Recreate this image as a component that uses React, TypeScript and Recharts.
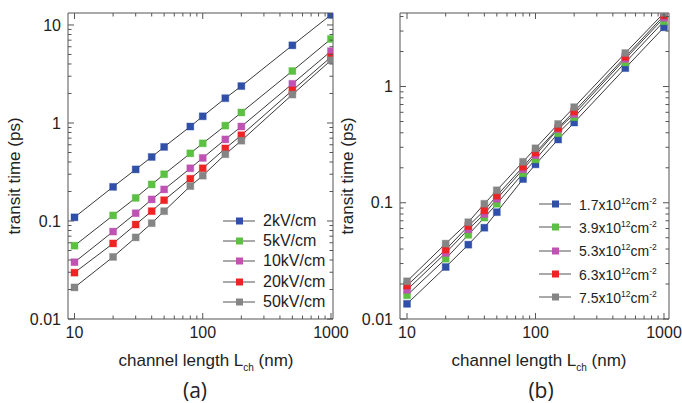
import { LineChart, Line, XAxis, YAxis } from "recharts";

// channel length (nm), shared by both panels
const lengths = [10, 20, 30, 40, 50, 80, 100, 150, 200, 500, 1000];

// panel (a): transit time (ps) for each field
const fieldNames = ["2kV/cm", "5kV/cm", "10kV/cm", "20kV/cm", "50kV/cm"];
const t2kV = [0.109, 0.223, 0.336, 0.45, 0.57, 0.92, 1.17, 1.79, 2.38, 6.2, 12.7];
const t5kV = [0.056, 0.114, 0.172, 0.236, 0.3, 0.49, 0.62, 0.94, 1.28, 3.39, 7.2];
const t10kV = [0.038, 0.078, 0.12, 0.166, 0.21, 0.345, 0.44, 0.68, 0.92, 2.51, 5.4];
const t20kV = [0.0297, 0.059, 0.092, 0.126, 0.163, 0.27, 0.345, 0.55, 0.75, 2.15, 4.7];
const t50kV = [0.021, 0.043, 0.068, 0.095, 0.126, 0.227, 0.29, 0.48, 0.66, 1.95, 4.36];

// panel (b): transit time (ps) for each carrier density
const densityNames = ["1.7", "3.9", "5.3", "6.3", "7.5"];
const n17 = [0.0135, 0.028, 0.0436, 0.061, 0.083, 0.16, 0.214, 0.35, 0.49, 1.44, 3.23];
const n39 = [0.016, 0.033, 0.053, 0.0745, 0.098, 0.179, 0.236, 0.396, 0.544, 1.61, 3.64];
const n53 = [0.0178, 0.037, 0.059, 0.08, 0.108, 0.194, 0.257, 0.43, 0.58, 1.73, 3.9];
const n63 = [0.0194, 0.0395, 0.063, 0.086, 0.115, 0.204, 0.27, 0.44, 0.61, 1.8, 4.08];
const n75 = [0.0211, 0.0445, 0.068, 0.098, 0.128, 0.225, 0.294, 0.476, 0.664, 1.94, 4.3];

const colors = ["#2f4fa8", "#5cc043", "#bf52b3", "#ee2324", "#858585"];

const FONT = "Arial, 'Liberation Sans', Helvetica, sans-serif";

const toPoints = (vals: number[]) => lengths.map((x, i) => ({ x, y: vals[i] }));

const seriesA = [t2kV, t5kV, t10kV, t20kV, t50kV].map((v, i) => ({
  name: fieldNames[i],
  color: colors[i],
  data: toPoints(v),
}));
const seriesB = [n17, n39, n53, n63, n75].map((v, i) => ({
  name: densityNames[i],
  color: colors[i],
  data: toPoints(v),
}));

// log ticks: decades labelled, 2..9 minor
function logTicks(from: number, to: number, max: number) {
  const out: number[] = [];
  for (let d = from; d < to; d *= 10) {
    for (let k = 1; k <= 9; k++) {
      const v = Number((d * k).toPrecision(3));
      if (v <= max) out.push(v);
    }
  }
  if (to <= max) out.push(to);
  return out;
}

const isDecade = (v: number) => {
  const l = Math.log10(v);
  return Math.abs(l - Math.round(l)) < 1e-6;
};

function LogTick(props: any) {
  const { x, y, payload, side, labeled } = props;
  const v = payload.value;
  const major = isDecade(v);
  const len = major ? 6 : 3.5;
  let line;
  let label = null;
  if (side === "bottom") {
    line = <line x1={x} y1={y} x2={x} y2={y - len} stroke="#555" />;
    if (labeled && major)
      label = (
        <text x={x} y={y + 19} textAnchor="middle" fontSize={16} fill="#222" fontFamily={FONT}>
          {String(v)}
        </text>
      );
  } else if (side === "top") {
    line = <line x1={x} y1={y} x2={x} y2={y + len} stroke="#555" />;
  } else if (side === "left") {
    line = <line x1={x} y1={y} x2={x + len} y2={y} stroke="#555" />;
    if (labeled && major)
      label = (
        <text x={x - 7} y={y + 5.7} textAnchor="end" fontSize={16} fill="#222" fontFamily={FONT}>
          {String(v)}
        </text>
      );
  } else {
    line = <line x1={x} y1={y} x2={x - len} y2={y} stroke="#555" />;
  }
  return (
    <g>
      {line}
      {label}
    </g>
  );
}

const square = (color: string) => (p: any) => (
  <rect
    key={`sq-${p.index}`}
    x={p.cx - 3.5}
    y={p.cy - 3.5}
    width={7}
    height={7}
    fill={color}
    stroke={color}
    strokeOpacity={0.35}
    strokeWidth={1}
  />
);

interface PanelProps {
  width: number;
  margin: { top: number; right: number; bottom: number; left: number };
  xDomain: [number, number];
  yDomain: [number, number];
  yTicks: number[];
  series: { name: string; color: string; data: { x: number; y: number }[] }[];
}

const xTicks = logTicks(10, 1000, 1000);

function Panel({ width, margin, xDomain, yDomain, yTicks, series }: PanelProps) {
  return (
    <LineChart width={width} height={403} margin={margin} style={{ overflow: "visible" }}>
      <XAxis
        xAxisId="b"
        dataKey="x"
        type="number"
        scale="log"
        domain={xDomain}
        allowDataOverflow
        ticks={xTicks}
        interval={0}
        height={1}
        tickSize={0}
        tickMargin={0}
        tickLine={false}
        axisLine={{ stroke: "#555" }}
        tick={<LogTick side="bottom" labeled />}
      />
      <XAxis
        xAxisId="t"
        orientation="top"
        dataKey="x"
        type="number"
        scale="log"
        domain={xDomain}
        allowDataOverflow
        ticks={xTicks}
        interval={0}
        height={1}
        tickSize={0}
        tickMargin={0}
        tickLine={false}
        axisLine={{ stroke: "#555" }}
        tick={<LogTick side="top" />}
      />
      <YAxis
        yAxisId="l"
        type="number"
        scale="log"
        domain={yDomain}
        allowDataOverflow
        ticks={yTicks}
        interval={0}
        width={1}
        tickSize={0}
        tickMargin={0}
        tickLine={false}
        axisLine={{ stroke: "#555" }}
        tick={<LogTick side="left" labeled />}
      />
      <YAxis
        yAxisId="r"
        orientation="right"
        type="number"
        scale="log"
        domain={yDomain}
        allowDataOverflow
        ticks={yTicks}
        interval={0}
        width={1}
        tickSize={0}
        tickMargin={0}
        tickLine={false}
        axisLine={{ stroke: "#555" }}
        tick={<LogTick side="right" />}
      />
      {series.map((s) => (
        <Line
          key={s.name}
          xAxisId="b"
          yAxisId="l"
          data={s.data}
          dataKey="y"
          type="linear"
          stroke="#3a3a3a"
          strokeWidth={1}
          dot={square(s.color)}
          activeDot={false}
          isAnimationActive={false}
        />
      ))}
    </LineChart>
  );
}

function LegendRow({ color, top, left, children }: any) {
  return (
    <div style={{ position: "absolute", left, top: top - 10, height: 20, display: "flex", alignItems: "center" }}>
      <svg width={34} height={20} style={{ display: "block" }}>
        <line x1={0} y1={10} x2={32} y2={10} stroke="#555" />
        <rect x={13} y={6.5} width={7} height={7} fill={color} />
      </svg>
      <span style={{ marginLeft: 6, whiteSpace: "nowrap", color: "#222" }}>{children}</span>
    </div>
  );
}

const absText = (left: number, top: number, extra: any = {}) => ({
  position: "absolute" as const,
  left,
  top,
  transform: "translate(-50%, -50%)",
  whiteSpace: "nowrap" as const,
  color: "#222",
  ...extra,
});

export default function App() {
  return (
    <div
      style={{
        position: "absolute",
        left: 0,
        top: 0,
        width: 682,
        height: 403,
        background: "#fff",
        fontFamily: FONT,
        overflow: "hidden",
      }}
    >
      <div style={{ position: "absolute", left: 0, top: 0 }}>
        <Panel
          width={350}
          margin={{ top: 12, right: 16, bottom: 83, left: 67 }}
          xDomain={[8.9, 1037]}
          yDomain={[0.01, 13.25]}
          yTicks={logTicks(0.01, 10, 13.25)}
          series={seriesA}
        />
      </div>
      <div style={{ position: "absolute", left: 341, top: 0 }}>
        <Panel
          width={341}
          margin={{ top: 12, right: 12, bottom: 83, left: 58 }}
          xDomain={[8.82, 1094]}
          yDomain={[0.01, 4.29]}
          yTicks={logTicks(0.01, 1, 4.29).concat([2, 3, 4])}
          series={seriesB}
        />
      </div>

      {/* legend (a) */}
      <div style={{ fontSize: 16 }}>
        {seriesA.map((s, i) => (
          <LegendRow key={s.name} color={s.color} left={223} top={221 + i * 20.2}>
            {s.name}
          </LegendRow>
        ))}
      </div>
      {/* legend (b) */}
      <div style={{ fontSize: 14 }}>
        {seriesB.map((s, i) => (
          <LegendRow key={s.name} color={s.color} left={539} top={204 + i * 23.3}>
            {s.name}x10<sup style={{ fontSize: 8.5 }}>12</sup>cm<sup style={{ fontSize: 8.5 }}>-2</sup>
          </LegendRow>
        ))}
      </div>

      {/* axis titles */}
      <div style={absText(15, 176, { fontSize: 17, transform: "translate(-50%, -50%) rotate(-90deg)" })}>
        transit time (ps)
      </div>
      <div style={absText(348, 176, { fontSize: 17, transform: "translate(-50%, -50%) rotate(-90deg)" })}>
        transit time (ps)
      </div>
      <div style={absText(206, 362, { fontSize: 17 })}>
        channel length L<sub style={{ fontSize: 10 }}>ch</sub> (nm)
      </div>
      <div style={absText(539, 362, { fontSize: 17 })}>
        channel length L<sub style={{ fontSize: 10 }}>ch</sub> (nm)
      </div>
      <div style={absText(195, 390, { fontSize: 21, fontFamily: "'Open Sans', sans-serif" })}>(a)</div>
      <div style={absText(541, 390, { fontSize: 21, fontFamily: "'Open Sans', sans-serif" })}>(b)</div>
    </div>
  );
}
